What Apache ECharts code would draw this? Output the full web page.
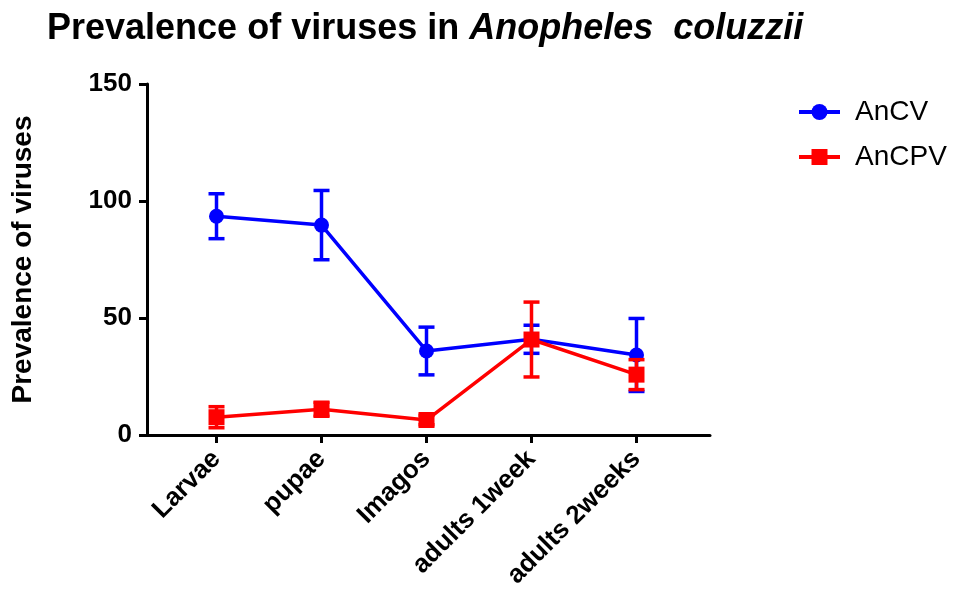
<!DOCTYPE html>
<html>
<head>
<meta charset="utf-8">
<script src="https://cdn.jsdelivr.net/npm/echarts@6/dist/echarts.min.js"></script>
<style>
  html, body { margin: 0; padding: 0; background: #fff; }
  #chart { width: 958px; height: 594px; }
</style>
</head>
<body>
<div id="chart"></div>
<script>
// data
var categories = ["Larvae", "pupae", "Imagos", "adults 1week", "adults 2weeks"];
var ancvMean = [93.5, 89.7, 35.9, 40.9, 34.2];
var ancvErr = [9.6, 14.8, 10.2, 6.0, 15.6];
var ancpvMean = [7.6, 11.0, 6.4, 40.8, 25.8];
var ancpvErr = [4.5, 3.0, 2.0, 16.0, 6.4];
var yTicks = [0, 50, 100, 150];

var blue = "#0000ff";
var red = "#ff0000";
var font = "Liberation Sans, Arial, sans-serif";

function pts(vals) {
  return vals.map(function (v, i) { return [i, v]; });
}
function errData(mean, err) {
  return mean.map(function (m, i) { return [i, m - err[i], m + err[i]]; });
}
// error bars drawn as a custom series
function errSeries(name, mean, err, color, z) {
  return {
    name: name,
    type: "custom",
    z: z,
    data: errData(mean, err),
    renderItem: function (params, api) {
      var lo = api.coord([api.value(0), api.value(1)]);
      var hi = api.coord([api.value(0), api.value(2)]);
      var w = 8;
      var st = { stroke: color, lineWidth: 3.5 };
      return {
        type: "group",
        children: [
          { type: "line", shape: { x1: lo[0], y1: lo[1], x2: hi[0], y2: hi[1] }, style: st },
          { type: "line", shape: { x1: lo[0] - w, y1: lo[1], x2: lo[0] + w, y2: lo[1] }, style: st },
          { type: "line", shape: { x1: hi[0] - w, y1: hi[1], x2: hi[0] + w, y2: hi[1] }, style: st }
        ]
      };
    }
  };
}

var chart = echarts.init(document.getElementById("chart"));
var option = {
  animation: false,
  backgroundColor: "#fff",
  title: {
    left: 42,
    top: 6,
    text: "{a|Prevalence of viruses in }{b|Anopheles  coluzzii}",
    textStyle: {
      rich: {
        a: { fontFamily: font, fontSize: 36, fontWeight: "bold", color: "#000" },
        b: { fontFamily: font, fontSize: 36, fontWeight: "bold", fontStyle: "italic", color: "#000" }
      }
    }
  },
  legend: {
    orient: "vertical",
    left: 792,
    top: 93,
    itemWidth: 41,
    itemHeight: 20,
    itemGap: 17,
    lineStyle: { width: 4 },
    textStyle: { fontFamily: font, fontSize: 28, color: "#000", padding: [0, 0, 0, 10] },
    data: ["AnCV", "AnCPV"]
  },
  grid: { left: 147, right: 248, top: 84, bottom: 159 },
  xAxis: {
    type: "value",
    min: -0.662,
    max: 4.70,
    splitLine: { show: false },
    axisLine: { lineStyle: { color: "#000", width: 3 } },
    axisTick: { show: true, length: 8, lineStyle: { color: "#000", width: 3 }, customValues: [0, 1, 2, 3, 4] },
    axisLabel: {
      customValues: [0, 1, 2, 3, 4],
      rotate: 45,
      margin: 20,
      fontFamily: font,
      fontSize: 26,
      fontWeight: "bold",
      color: "#000",
      formatter: function (v) { return categories[Math.round(v)]; }
    }
  },
  yAxis: {
    type: "value",
    min: yTicks[0],
    max: yTicks[yTicks.length - 1],
    interval: 50,
    name: "Prevalence of viruses",
    nameLocation: "middle",
    nameGap: 110,
    nameTextStyle: { fontFamily: font, fontSize: 28, fontWeight: "bold", color: "#000" },
    splitLine: { show: false },
    axisLine: { show: true, onZero: false, lineStyle: { color: "#000", width: 3 } },
    axisTick: { show: true, length: 8, lineStyle: { color: "#000", width: 3 } },
    axisLabel: { margin: 15, fontFamily: font, fontSize: 26, fontWeight: "bold", color: "#000" }
  },
  series: [
    errSeries("AnCV err", ancvMean, ancvErr, blue, 2),
    {
      name: "AnCV",
      type: "line",
      z: 3,
      data: pts(ancvMean),
      symbol: "circle",
      symbolSize: 15,
      color: blue,
      lineStyle: { color: blue, width: 3.5 },
      itemStyle: { color: blue }
    },
    errSeries("AnCPV err", ancpvMean, ancpvErr, red, 4),
    {
      name: "AnCPV",
      type: "line",
      z: 5,
      data: pts(ancpvMean),
      symbol: "rect",
      symbolSize: 16,
      color: red,
      lineStyle: { color: red, width: 3.5 },
      itemStyle: { color: red }
    }
  ]
};
chart.setOption(option);
</script>
</body>
</html>
